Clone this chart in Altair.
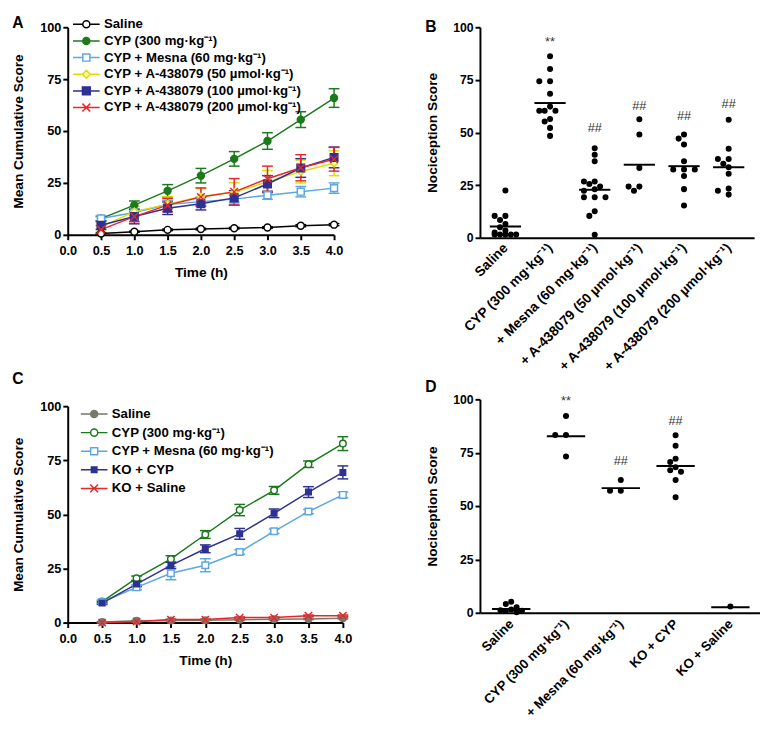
import json
import altair as alt
import pandas as pd

FONT = "Liberation Sans"

# ---------------- Panel A data ----------------
time_h = [0.5, 1.0, 1.5, 2.0, 2.5, 3.0, 3.5, 4.0]
a_series = [
    "Saline",
    "CYP (300 mg·kg⁻¹)",
    "CYP + Mesna (60 mg·kg⁻¹)",
    "CYP + A-438079 (50  µmol·kg⁻¹)",
    "CYP + A-438079 (100  µmol·kg⁻¹)",
    "CYP + A-438079 (200  µmol·kg⁻¹)",
]
a_saline = [0.6, 1.5, 2.4, 2.8, 3.2, 3.5, 4.4, 4.9]
a_saline_err = [0.3, 0.3, 0.4, 0.4, 0.4, 0.4, 0.5, 0.5]
a_cyp = [7.8, 14.3, 21.2, 28.5, 36.6, 45.2, 55.5, 65.9]
a_cyp_err = [1.0, 2.0, 3.0, 3.5, 3.5, 4.0, 3.8, 4.5]
a_mesna = [7.9, 10.8, 14.6, 16.0, 17.2, 19.1, 20.8, 22.5]
a_mesna_err = [1.2, 1.5, 2.0, 2.0, 1.8, 2.0, 2.5, 2.5]
a_a50 = [3.8, 11.2, 14.8, 18.3, 20.6, 25.5, 30.5, 34.5]
a_a50_err = [2.0, 2.5, 3.5, 4.0, 4.5, 5.5, 5.5, 6.0]
a_a100 = [4.6, 8.8, 12.8, 15.0, 17.8, 24.5, 32.2, 37.3]
a_a100_err = [2.0, 3.5, 3.0, 3.0, 3.5, 4.0, 4.5, 5.0]
a_a200 = [2.5, 8.8, 14.3, 18.2, 20.7, 27.0, 32.3, 36.4]
a_a200_err = [2.0, 2.5, 3.2, 4.4, 6.4, 6.1, 6.3, 5.7]

# ---------------- Panel C data ----------------
c_series = [
    "Saline",
    "CYP (300 mg·kg⁻¹)",
    "CYP + Mesna (60 mg·kg⁻¹)",
    "KO + CYP",
    "KO + Saline",
]
c_saline = [0.3, 0.8, 1.0, 1.1, 1.3, 1.5, 1.7, 2.0]
c_saline_err = [0.2, 0.2, 0.2, 0.2, 0.3, 0.3, 0.3, 0.3]
c_cyp = [9.7, 20.5, 29.4, 40.7, 52.0, 61.1, 73.2, 82.7]
c_cyp_err = [0.6, 1.0, 1.5, 1.8, 2.6, 1.8, 1.5, 3.2]
c_mesna = [9.5, 16.3, 22.8, 26.5, 32.6, 42.2, 51.3, 59.0]
c_mesna_err = [0.6, 1.2, 3.0, 3.0, 1.0, 1.0, 1.0, 1.3]
c_ko_cyp = [9.0, 17.8, 26.4, 34.1, 41.0, 50.5, 60.3, 69.4]
c_ko_cyp_err = [0.6, 1.2, 1.5, 1.8, 2.5, 2.0, 2.5, 3.0]
c_ko_saline = [0.0, 0.4, 1.4, 1.4, 2.3, 2.3, 3.2, 3.2]
c_ko_saline_err = [0.2, 0.2, 0.2, 0.2, 0.3, 0.3, 0.3, 0.3]

# ---------------- Panel B data ----------------
b_labels = [
    "Saline",
    "CYP (300 mg·kg⁻¹)",
    "+ Mesna (60 mg·kg⁻¹)",
    "+ A-438079 (50 µmol·kg⁻¹)",
    "+ A-438079 (100 µmol·kg⁻¹)",
    "+ A-438079 (200 µmol·kg⁻¹)",
]
b_saline = [22.5, 10.4, 10.4, 8.4, 6.5, 5.0, 3.5, 2.5, 1.5, 1.5, 1.5, 1.5, 1.5]
b_cyp = [86.2, 80.2, 74.3, 74.3, 68.4, 62.3, 60.3, 60.3, 60.3, 56.4, 55.2, 52.2, 48.4]
b_mesna = [42.5, 39.4, 36.3, 26.7, 26.7, 25.5, 24.3, 23.0, 22.3, 19.2, 19.2, 19.2, 12.6, 10.4, 1.4]
b_a50 = [56.3, 49.1, 33.2, 24.3, 24.3, 22.3]
b_a100 = [49.1, 47.1, 44.3, 36.3, 32.4, 32.4, 32.4, 29.3, 23.1, 15.3]
b_a200 = [56.1, 42.3, 37.4, 37.4, 35.2, 33.5, 30.4, 23.4, 22.3, 20.5]
b_means = [5.4, 64.0, 22.8, 34.7, 34.0, 33.5]
b_marks = ["", "**", "##", "##", "##", "##"]
b_mark_y = [None, 93.0, 52.0, 62.6, 58.0, 63.7]

# ---------------- Panel D data ----------------
d_labels = [
    "Saline",
    "CYP (300 mg·kg⁻¹)",
    "+ Mesna (60 mg·kg⁻¹)",
    "KO + CYP",
    "KO + Saline",
]
d_saline = [5.2, 4.1, 2.6, 1.5, 1.2, 1.0, 0.8, 0.3]
d_cyp = [92.2, 83.3, 83.3, 73.2]
d_mesna = [62.2, 57.2, 57.2]
d_ko_cyp = [83.2, 78.3, 72.2, 70.6, 68.2, 66.8, 66.1, 62.2, 54.1]
d_ko_saline = [2.9]
d_means = [1.8, 82.7, 58.4, 68.8, 2.6]
d_marks = ["", "**", "##", "##", ""]
d_mark_y = [None, 99.0, 71.0, 90.0, None]

# ---------------- styles ----------------
GREEN = "#1b7a1b"
LBLUE = "#5ea7dd"
NAVY = "#2e3192"
RED = "#e8262b"
YELLOW = "#dede00"
GREY = "#77776b"

X_PATH = "M-1,-1L1,1M-1,1L1,-1"


def legend_path(kind, m, half=1.7):
    line = f"M-{half},0H-{m}M{m},0H{half}"
    if kind == "circle":
        return line + f"M{m},0A{m},{m} 0 1,1 -{m},0A{m},{m} 0 1,1 {m},0Z"
    if kind == "square":
        return line + f"M-{m},-{m}H{m}V{m}H-{m}Z"
    if kind == "diamond":
        return line + f"M0,-{m}L{m},0L0,{m}L-{m},0Z"
    return f"M-{half},0H{half}M-{m},-{m}L{m},{m}M-{m},{m}L{m},-{m}"


def title(letter, offset):
    return alt.TitleParams(letter, anchor="start", frame="bounds", font=FONT, fontSize=16,
                           fontWeight="bold", offset=offset, color="black")


def time_panel(series, means, errs, colors, fills, shapes, sizes, leg_shapes,
               width, height, leg_x, leg_y, row_pad, letter, t_off):
    field = f"series{letter}"
    rows = []
    for s, mv, ev in zip(series, means, errs):
        for t, v, e in zip(time_h, mv, ev):
            rows.append({field: s, "t": t, "mean": v, "lo": v - e, "hi": v + e})
    df = pd.DataFrame(rows)

    x_axis = alt.Axis(values=[0, 0.5, 1, 1.5, 2, 2.5, 3, 3.5, 4], format=".1f",
                      title="Time (h)", labelFontSize=13, titleFontSize=14,
                      labelPadding=5, titlePadding=9, labelFlush=False)
    y_axis = alt.Axis(values=[0, 25, 50, 75, 100], title="Mean Cumulative Score",
                      labelFontSize=13, titleFontSize=14, labelPadding=2, titlePadding=14,
                      labelFlush=False)
    xs = alt.Scale(domain=[0, 4], nice=False)
    ys = alt.Scale(domain=[0, 100], nice=False)

    def X():
        return alt.X("t:Q", scale=xs, axis=x_axis)

    def Y(f):
        return alt.Y(f"{f}:Q", scale=ys, axis=y_axis)

    errs_l, lines_l, pts_l = [], [], []
    for s, c, f, sh, sz in zip(series, colors, fills, shapes, sizes):
        sub = alt.Chart(df[df[field] == s])
        errs_l.append(sub.mark_rule(strokeWidth=1.5, color=c).encode(x=X(), y=Y("lo"), y2="hi:Q"))
        errs_l.append(sub.mark_tick(orient="horizontal", size=11, thickness=1.5, color=c, opacity=1)
                      .encode(x=X(), y=Y("lo")))
        errs_l.append(sub.mark_tick(orient="horizontal", size=11, thickness=1.5, color=c, opacity=1)
                      .encode(x=X(), y=Y("hi")))
        lines_l.append(sub.mark_line(strokeWidth=1.5, color=c).encode(x=X(), y=Y("mean")))
        pts_l.append(sub.mark_point(shape=sh, filled=True, fill=f, stroke=c, strokeWidth=1.5,
                                    size=sz, opacity=1).encode(x=X(), y=Y("mean")))
    leg = alt.Legend(orient="none", legendX=leg_x, legendY=leg_y, title=None,
                     labelFont=FONT, labelFontSize=13.5, labelFontWeight="bold",
                     labelColor="black", labelLimit=400, symbolSize=256,
                     symbolStrokeWidth=1.5, labelOffset=9, rowPadding=row_pad, padding=0)
    legend_layer = alt.Chart(df).transform_filter("false").mark_point(
        filled=False, strokeWidth=1.5, opacity=1).encode(
        color=alt.Color(f"{field}:N", scale=alt.Scale(domain=series, range=colors), legend=leg),
        fill=alt.Fill(f"{field}:N", scale=alt.Scale(domain=series, range=fills), legend=leg),
        shape=alt.Shape(f"{field}:N", scale=alt.Scale(domain=series, range=leg_shapes), legend=leg),
    )
    return alt.layer(*errs_l, *lines_l, *pts_l, legend_layer).properties(
        width=width, height=height, title=title(letter, t_off))


def swarm(vals, px_per_val, d=6.0, step=5.5, maxk=2):
    placed = []
    res = [0.0] * len(vals)
    cands = [0.0]
    for k in range(1, maxk + 1):
        cands += [-k * step, k * step]
    order = sorted(range(len(vals)), key=lambda i: -vals[i])
    for i in order:
        y = vals[i] * px_per_val
        best, best_d = cands[0], -1.0
        for c in cands:
            md = min([((c - px) ** 2 + (y - py) ** 2) ** 0.5 for px, py in placed] or [99.0])
            if md >= d:
                best = c
                break
            if md > best_d:
                best, best_d = c, md
        placed.append((best, y))
        res[i] = best
    return res


def scatter_panel(labels, groups, means, marks, mark_y, width, height, dom, px_x, px_y,
                  letter, t_off, lab_pad, lab_size):
    rows = []
    for gi, vals in enumerate(groups):
        offs = swarm(vals, px_y)
        for v, o in zip(vals, offs):
            rows.append({"xpos": gi + o / px_x, "v": v})
    df = pd.DataFrame(rows)
    mdf = pd.DataFrame({"x1": [i - 0.35 for i in range(len(means))],
                        "x2": [i + 0.35 for i in range(len(means))], "m": means})
    tdf = pd.DataFrame([{"xi": i, "ty": y, "lab": t} for i, (t, y) in enumerate(zip(marks, mark_y)) if t])

    expr = "[" + ",".join(json.dumps(l, ensure_ascii=False) for l in labels) + "][datum.value]"
    x_axis = alt.Axis(values=list(range(len(labels))), labelExpr=expr, ticks=False, title=None,
                      labelAngle=-45, labelAlign="right", labelBaseline="middle",
                      labelFontSize=lab_size, labelPadding=lab_pad, labelOverlap=False,
                      labelBound=False, labelLimit=400, labelFlush=False)
    y_axis = alt.Axis(values=[0, 25, 50, 75, 100], title="Nociception Score",
                      labelFontSize=12.5, titleFontSize=14, labelPadding=2, titlePadding=14,
                      labelFlush=False)
    xs = alt.Scale(domain=dom, nice=False, zero=False)
    ys = alt.Scale(domain=[0, 100], nice=False)

    pts = alt.Chart(df).mark_circle(size=38, color="black", opacity=1).encode(
        x=alt.X("xpos:Q", scale=xs, axis=x_axis), y=alt.Y("v:Q", scale=ys, axis=y_axis))
    mline = alt.Chart(mdf).mark_rule(strokeWidth=2, color="black").encode(
        x=alt.X("x1:Q", scale=xs, axis=x_axis), x2="x2:Q", y=alt.Y("m:Q", scale=ys, axis=y_axis))
    txt = alt.Chart(tdf).mark_text(font=FONT, fontSize=13, color="#333333").encode(
        x=alt.X("xi:Q", scale=xs, axis=x_axis), y=alt.Y("ty:Q", scale=ys, axis=y_axis), text="lab:N")
    return alt.layer(pts, mline, txt).properties(
        width=width, height=height, title=title(letter, t_off))


panel_a = time_panel(
    a_series,
    [a_saline, a_cyp, a_mesna, a_a50, a_a100, a_a200],
    [a_saline_err, a_cyp_err, a_mesna_err, a_a50_err, a_a100_err, a_a200_err],
    ["#000000", GREEN, LBLUE, YELLOW, NAVY, RED],
    ["#ffffff", GREEN, "#ffffff", "#fbfba8", NAVY, RED],
    ["circle", "circle", "square", "diamond", "square", X_PATH],
    [50, 50, 50, 55, 60, 60],
    [legend_path("circle", 0.45), legend_path("circle", 0.45), legend_path("square", 0.45),
     legend_path("diamond", 0.5), legend_path("square", 0.5), legend_path("x", 0.5)],
    272, 212, 10, -12, 1, "A", -16,
)

panel_c = time_panel(
    c_series,
    [c_saline, c_cyp, c_mesna, c_ko_cyp, c_ko_saline],
    [c_saline_err, c_cyp_err, c_mesna_err, c_ko_cyp_err, c_ko_saline_err],
    [GREY, GREEN, LBLUE, NAVY, RED],
    [GREY, "#ffffff", "#ffffff", NAVY, RED],
    ["circle", "circle", "square", "square", X_PATH],
    [45, 45, 45, 32, 55],
    [legend_path("circle", 0.45), legend_path("circle", 0.45), legend_path("square", 0.45),
     legend_path("square", 0.35), legend_path("x", 0.5)],
    281, 221, 18, -1, 3, "C", 14,
)

panel_b = scatter_panel(b_labels, [b_saline, b_cyp, b_mesna, b_a50, b_a100, b_a200], b_means,
                        b_marks, b_mark_y, 280, 215, [-0.57, 5.57], 45.6, 2.15, "B", -14, 8, 14)
panel_d = scatter_panel(d_labels, [d_saline, d_cyp, d_mesna, d_ko_cyp, d_ko_saline], d_means,
                        d_marks, d_mark_y, 286, 218, [-0.57, 4.54], 56.0, 2.18, "D", -1, 9, 13.5)

RES = dict(color="independent", fill="independent", shape="independent")

left = alt.vconcat(panel_a, panel_c, spacing=93).resolve_scale(**RES).resolve_legend(**RES)
right = alt.vconcat(panel_b, panel_d, spacing=5)

chart = alt.hconcat(left, right, spacing=74).resolve_scale(**RES).resolve_legend(**RES).properties(
    padding={"left": 4, "top": 0, "right": 0, "bottom": 0}, background="white"
).configure_view(stroke=None).configure_axis(
    domainColor="black", domainWidth=2, tickColor="black", tickWidth=2, tickSize=5,
    labelFont=FONT, labelFontWeight="bold", labelColor="black",
    titleFont=FONT, titleFontWeight="bold", titleColor="black", grid=False,
)

chart.save("out.html", embed_options={"renderer": "svg", "actions": False})
